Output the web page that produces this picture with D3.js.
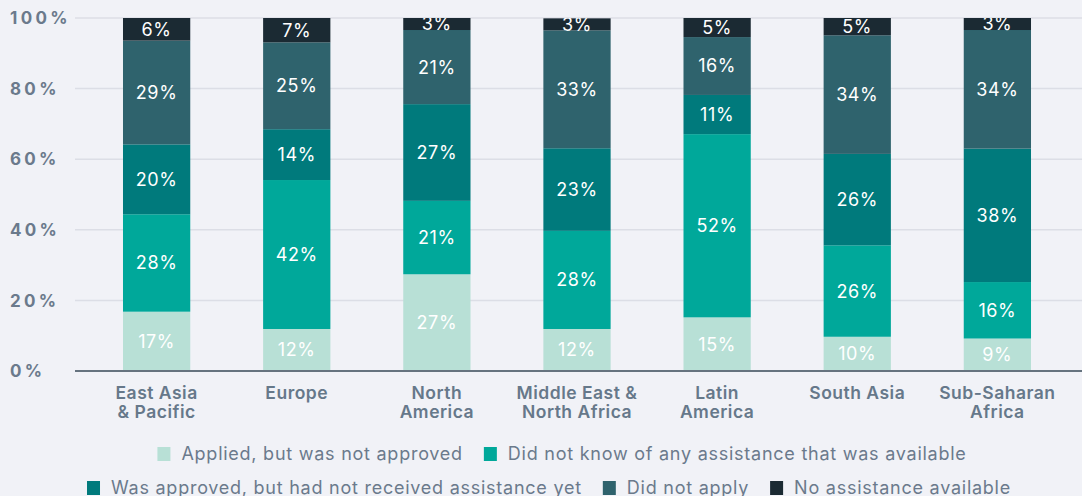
<!DOCTYPE html>
<html>
<head>
<meta charset="utf-8">
<script src="https://cdn.jsdelivr.net/npm/d3@7"></script>
<style>
  html, body { margin: 0; padding: 0; background: #f1f2f7; }
  svg { display: block; font-family: Inter, "Noto Sans", sans-serif; }
</style>
</head>
<body>
<svg class="chart"></svg>
<script>
var regions = [["East Asia", "& Pacific"], ["Europe"], ["North", "America"],
    ["Middle East &", "North Africa"], ["Latin", "America"], ["South Asia"], ["Sub-Saharan", "Africa"]];
var seriesNames = ["Applied, but was not approved", "Did not know of any assistance that was available",
    "Was approved, but had not received assistance yet", "Did not apply", "No assistance available"];
var seriesColors = ["#b8e0d6", "#00a89a", "#007a7c", "#2f636d", "#1b2a33"];

// one array per series, one value per region (percent)
var applied     = [16.8, 11.9, 27.4, 11.9, 15.2,  9.7,  9.2];
var didNotKnow  = [27.6, 42.2, 20.8, 27.8, 51.9, 25.9, 16.0];
var approved    = [19.8, 14.4, 27.4, 23.4, 11.1, 25.9, 37.8];
var didNotApply = [29.4, 24.6, 21.0, 33.4, 16.4, 33.6, 33.6];
var noAssist    = [ 6.4,  6.9,  3.4,  3.4,  5.4,  4.9,  3.4];
var yTicks = [0, 20, 40, 60, 80, 100];

var width = 1082, height = 496;
var svg = d3.select(".chart").attr("width", width).attr("height", height);

var series = [applied, didNotKnow, approved, didNotApply, noAssist];
var keys = ["s0", "s1", "s2", "s3", "s4"];
var table = regions.map(function(r, i) {
    var row = {region: i};
    series.forEach(function(s, j) { row[keys[j]] = s[i]; });
    return row;
});
var stacked = d3.stack().keys(keys)(table);

var x = d3.scaleBand().domain(d3.range(regions.length)).range([86, 1068])
    .paddingInner(0.52).paddingOuter(0.264);
var y = d3.scaleLinear().domain([0, 100]).range([371, 18]);

// grid
svg.append("g").selectAll("line").data(yTicks.slice(1)).enter().append("line")
    .attr("x1", 75).attr("x2", width)
    .attr("y1", function(d) { return y(d); }).attr("y2", function(d) { return y(d); })
    .attr("stroke", "#dcdee6").attr("stroke-width", 1.5);

svg.append("g").selectAll("text").data(yTicks).enter().append("text")
    .attr("x", 10).attr("y", function(d) { return y(d); })
    .attr("dy", "0.36em")
    .attr("fill", "#6b7a8c").attr("font-size", 17).attr("font-weight", 700)
    .attr("letter-spacing", "3.3px")
    .text(function(d) { return d + "%"; });

svg.append("clipPath").attr("id", "plot").append("rect")
    .attr("x", 0).attr("y", y(100)).attr("width", width).attr("height", y(0) - y(100));

var layers = svg.append("g").selectAll("g.layer").data(stacked).enter().append("g")
    .attr("class", "layer").attr("fill", function(d, i) { return seriesColors[i]; });

layers.selectAll("rect").data(function(d) { return d; }).enter().append("rect")
    .attr("x", function(d, i) { return x(i); })
    .attr("width", x.bandwidth())
    .attr("y", function(d) { return y(Math.min(d[1], 100)); })
    .attr("height", function(d) { return y(d[0]) - y(Math.min(d[1], 100)); });

svg.append("g").attr("clip-path", "url(#plot)")
    .selectAll("g").data(stacked).enter().append("g")
    .selectAll("text").data(function(d) { return d; }).enter().append("text")
    .attr("x", function(d, i) { return x(i) + x.bandwidth() / 2; })
    .attr("y", function(d) { return y((d[0] + Math.min(d[1], 100)) / 2); })
    .attr("dy", "0.36em")
    .attr("text-anchor", "middle")
    .attr("fill", "#ffffff").attr("font-size", 18).attr("letter-spacing", "0.6px")
    .text(function(d) { return Math.round(d[1] - d[0]) + "%"; });

svg.append("line").attr("x1", 75).attr("x2", width)
    .attr("y1", y(0)).attr("y2", y(0))
    .attr("stroke", "#66737f").attr("stroke-width", 2);

// x labels
var xl = svg.append("g").selectAll("text").data(regions).enter().append("text")
    .attr("text-anchor", "middle")
    .attr("fill", "#66788a").attr("font-size", 17.5).attr("font-weight", 600)
    .attr("letter-spacing", "0.5px");
xl.selectAll("tspan").data(function(d, i) { return d.map(function(t) { return {t: t, i: i}; }); })
    .enter().append("tspan")
    .attr("x", function(d) { return x(d.i) + x.bandwidth() / 2; })
    .attr("y", function(d, k) { return 399 + k * 19; })
    .text(function(d) { return d.t; });

// legend
var rows = [[0, 1], [2, 3, 4]];
var rowY = [454, 488];
var rowCenter = [562, 549];
rows.forEach(function(row, r) {
    var g = svg.append("g");
    var cx = 0;
    row.forEach(function(si, k) {
        if (k > 0) cx += 21;
        g.append("rect").attr("x", cx).attr("y", rowY[r] - 7).attr("width", 13).attr("height", 14)
            .attr("fill", seriesColors[si]);
        var t = g.append("text").attr("x", cx + 24).attr("y", rowY[r]).attr("dy", "0.36em")
            .attr("fill", "#6b7a8c").attr("font-size", 18).attr("letter-spacing", "0.75px")
            .text(seriesNames[si]);
        cx += 24 + t.node().getComputedTextLength();
    });
    g.attr("transform", "translate(" + (rowCenter[r] - cx / 2) + ",0)");
});
</script>
</body>
</html>
